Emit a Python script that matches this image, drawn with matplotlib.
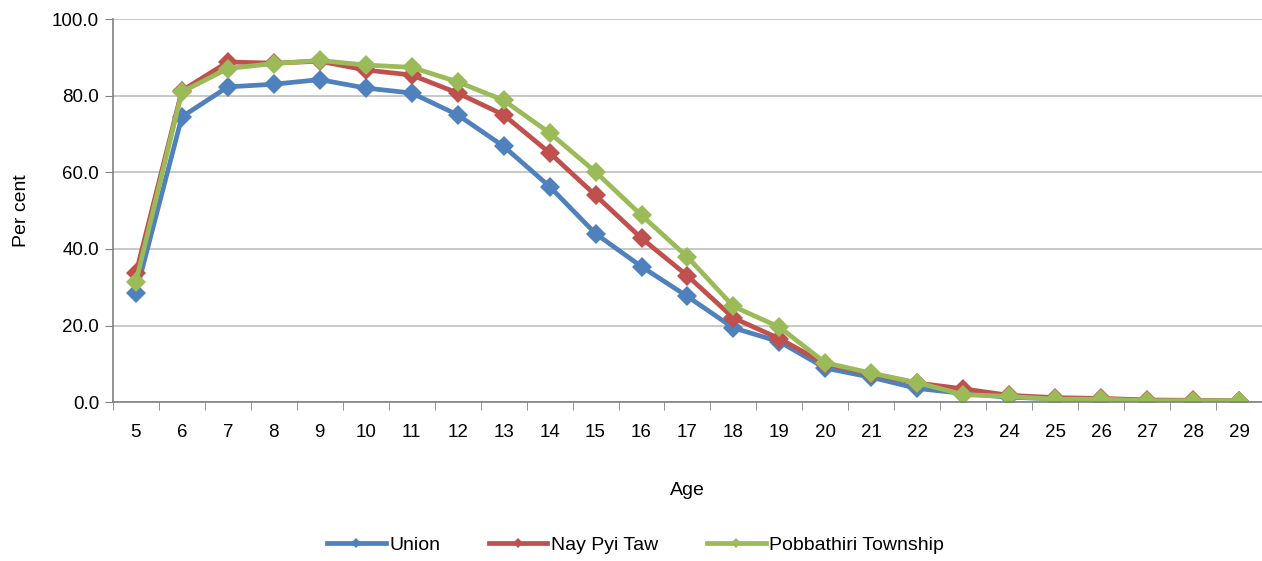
import numpy as np
import matplotlib
matplotlib.use("Agg")
import matplotlib.pyplot as plt
from matplotlib.ticker import FixedLocator

plt.rcParams["font.family"] = ["Liberation Sans", "DejaVu Sans"]

ages = list(range(5, 30))
union = [28.5, 74.5, 82.3, 83.0, 84.2, 82.0, 80.7, 75.0, 66.8, 56.3, 44.0, 35.4, 27.6,
         19.4, 15.8, 8.9, 6.5, 3.6, 2.3, 1.3, 0.9, 0.7, 0.4, 0.3, 0.3]
nay_pyi_taw = [33.6, 81.3, 88.8, 88.5, 89.0, 86.7, 85.4, 80.7, 75.0, 65.1, 54.0, 42.8, 33.0,
               22.0, 16.6, 10.0, 7.4, 5.0, 3.5, 1.8, 1.2, 1.0, 0.6, 0.5, 0.4]
pobbathiri = [31.4, 81.0, 87.1, 88.4, 89.2, 88.0, 87.4, 83.6, 78.8, 70.3, 60.1, 48.8, 37.9,
              25.0, 19.6, 10.3, 7.6, 5.1, 2.0, 1.5, 0.8, 0.8, 0.4, 0.4, 0.4]

series = [
    ("Union", union, "#4F81BD"),
    ("Nay Pyi Taw", nay_pyi_taw, "#C0504D"),
    ("Pobbathiri Township", pobbathiri, "#9BBB59"),
]

fig = plt.figure(figsize=(12.62, 5.61), dpi=100)
ax = fig.add_axes([0.0895, 0.283, 0.9105, 0.683])

for name, vals, col in series:
    ax.plot(ages, vals, color=col, linewidth=3.4, marker="D", markersize=10,
            markeredgewidth=0, label=name, solid_joinstyle="round")

ax.set_xlim(4.5, 29.5)
ax.set_ylim(0, 100)
ax.set_yticks(np.arange(0, 101, 20))
ax.set_yticklabels([f"{v:.1f}" for v in np.arange(0, 101, 20)])
ax.set_xticks(ages)
ax.set_xticklabels([str(a) for a in ages])
ax.xaxis.set_minor_locator(FixedLocator(np.arange(4.5, 30, 1)))
ax.tick_params(axis="x", which="major", length=0, pad=16, labelsize=13.5)
ax.tick_params(axis="x", which="minor", length=6, color="#808080", direction="out")
ax.tick_params(axis="y", length=6, color="#808080", labelsize=13.5, pad=4)

ax.grid(axis="y", color="#BFBFBF", linewidth=1.2)
ax.set_axisbelow(True)
for s in ["top", "right"]:
    ax.spines[s].set_visible(False)
for s in ["left", "bottom"]:
    ax.spines[s].set_color("#808080")
    ax.spines[s].set_linewidth(1.2)

ax.set_ylabel("Per cent", fontsize=14, labelpad=16)
ax.set_xlabel("Age", fontsize=14, labelpad=29)

leg = ax.legend(loc="upper center", bbox_to_anchor=(0.455, -0.305), ncol=3, frameon=False,
                fontsize=14, handlelength=3, columnspacing=2.5, handletextpad=0.2,
                markerscale=0.5)

fig.savefig("out.png", dpi=100)
